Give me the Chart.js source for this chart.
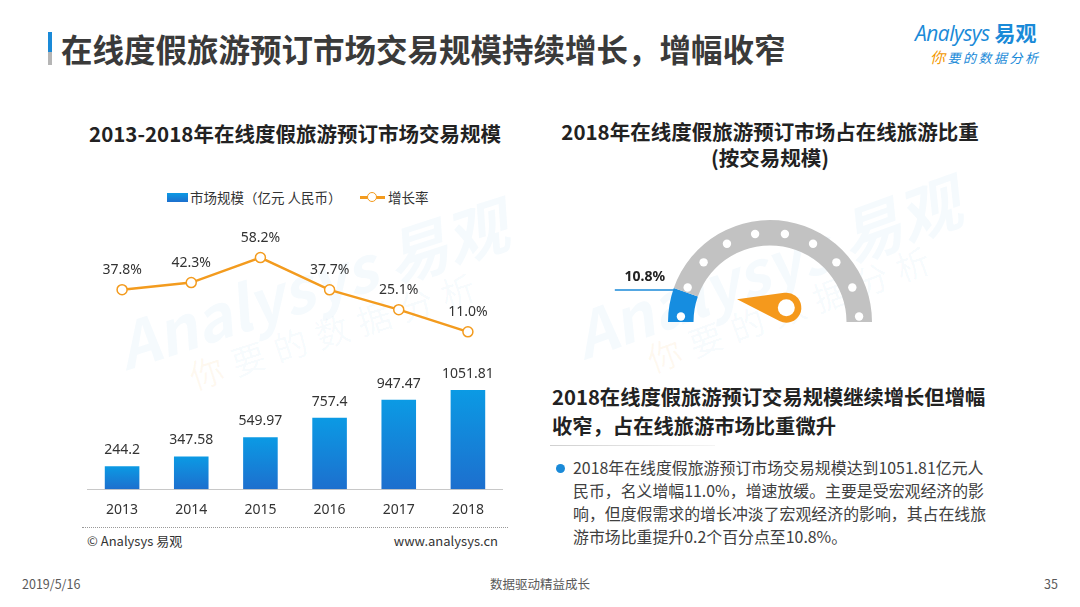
<!DOCTYPE html>
<html lang="zh-CN">
<head>
<meta charset="utf-8">
<title>在线度假旅游预订市场交易规模</title>
<script src="https://cdn.jsdelivr.net/npm/chart.js@4.4.1/dist/chart.umd.min.js"></script>
<style>
  * { margin: 0; padding: 0; box-sizing: border-box; }
  body { width: 1080px; height: 607px; background: #fff; position: relative; overflow: hidden;
         font-family: "Noto Sans CJK SC", "Noto Sans", sans-serif; color: #333; }
  .abs { position: absolute; white-space: nowrap; }
  .wm { position: absolute; white-space: nowrap; transform-origin: left center; pointer-events: none; z-index: 0; }
  canvas { position: absolute; z-index: 1; }
</style>
</head>
<body>

<script>
// ── Données ───────────────────────────────────────────────────────────
const years       = ['2013', '2014', '2015', '2016', '2017', '2018']
const marketSize  = [244.2, 347.58, 549.97, 757.4, 947.47, 1051.81]   // 亿元 人民币
const growthRate  = [37.8, 42.3, 58.2, 37.7, 25.1, 11.0]              // %
const shareLabels = ['在线度假旅游', '其他在线旅游']
const shareValues = [10.8, 89.2]                                      // %
</script>

<!-- ── En-tête ─────────────────────────────────────────────────────── -->
<div class="abs" style="left:48px;top:32px;width:4px;height:33px;background:linear-gradient(#1a8ad8 0 62%, #b5b5b5 62% 100%)"></div>
<div class="abs" style="left:61px;top:26px;font-size:31.5px;font-weight:700;line-height:44px;color:#3a3a3a">在线度假旅游预订市场交易规模持续增长，增幅收窄</div>

<div class="abs" style="left:915px;top:18px;font-size:21px;line-height:28px;color:#1a8ad8">
  <span style="font-family:'Open Sans',sans-serif;font-style:italic;letter-spacing:-0.5px">Analysys</span><span style="font-weight:700;margin-left:5px">易观</span>
</div>
<div class="abs" style="left:930px;top:48px;font-size:13px;line-height:18px;font-style:italic;letter-spacing:2.5px;color:#1a8ad8">
  <span style="color:#f39800;font-size:15px">你</span>要的数据分析
</div>

<!-- ── Filigrane ───────────────────────────────────────────────────── -->
<div class="wm" style="left:118px;top:300px;font-size:62px;font-style:italic;font-weight:700;color:rgba(26,138,216,0.045);transform:rotate(-18deg)">Analysys 易观</div>
<div class="wm" style="left:190px;top:352px;font-size:34px;letter-spacing:10px;color:rgba(26,138,216,0.045);transform:rotate(-18deg)"><span style="color:rgba(243,152,0,0.06)">你</span>要的数据分析</div>
<div class="wm" style="left:575px;top:290px;font-size:62px;font-style:italic;font-weight:700;color:rgba(26,138,216,0.045);transform:rotate(-20deg)">Analysys 易观</div>
<div class="wm" style="left:648px;top:335px;font-size:34px;letter-spacing:10px;color:rgba(26,138,216,0.045);transform:rotate(-20deg)"><span style="color:rgba(243,152,0,0.06)">你</span>要的数据分析</div>

<!-- ── Graphique gauche ────────────────────────────────────────────── -->
<div class="abs" style="left:80px;width:430px;top:118px;text-align:center;font-size:20.5px;font-weight:700;line-height:30px;color:#222">2013-2018年在线度假旅游预订市场交易规模</div>

<div class="abs" style="left:167px;top:193px;width:21px;height:9px;background:linear-gradient(#0b9ae4,#1d6fce)"></div>
<div class="abs" style="left:190px;top:187px;font-size:13.5px;line-height:20px;color:#333">市场规模（亿元 人民币）</div>
<div class="abs" style="left:360px;top:196px;width:25px;height:2.5px;background:#f39b1e"></div>
<div class="abs" style="left:367px;top:192px;width:10px;height:10px;border-radius:50%;border:1.5px solid #f39b1e;background:#fff"></div>
<div class="abs" style="left:388px;top:187px;font-size:13.5px;line-height:20px;color:#333">增长率</div>

<canvas id="chart-market" width="428" height="324" style="left:81px;top:211px;width:428px;height:324px"></canvas>

<div class="abs" style="left:82px;top:527px;width:426px;border-top:1px dotted #999"></div>
<div class="abs" style="left:87px;top:532px;font-size:13px;line-height:18px;color:#333">© Analysys 易观</div>
<div class="abs" style="left:300px;width:198px;top:532px;text-align:right;font-size:13px;line-height:18px;color:#333">www.analysys.cn</div>

<!-- ── Jauge droite ────────────────────────────────────────────────── -->
<div class="abs" style="left:555px;width:430px;top:118px;text-align:center;font-size:20.5px;font-weight:700;line-height:26px;color:#222">2018年在线度假旅游预订市场占在线旅游比重<br>(按交易规模)</div>

<canvas id="chart-share" width="300" height="120" style="left:600px;top:212px;width:300px;height:120px"></canvas>

<div class="abs" style="left:552px;top:382px;font-size:20.3px;font-weight:700;line-height:29px;color:#222">2018在线度假旅游预订交易规模继续增长但增幅<br>收窄，占在线旅游市场比重微升</div>
<div class="abs" style="left:550px;top:445px;width:165px;height:1px;background:linear-gradient(90deg,#d0d0d0,#f4f4f4)"></div>
<div class="abs" style="left:556px;top:464px;width:9px;height:9px;border-radius:50%;background:#1a8ad8"></div>
<div class="abs" style="left:573px;top:456px;font-size:15.9px;line-height:23px;color:#404040">2018年在线度假旅游预订市场交易规模达到1051.81亿元人<br>民币，名义增幅11.0%，增速放缓。主要是受宏观经济的影<br>响，但度假需求的增长冲淡了宏观经济的影响，其占在线旅<br>游市场比重提升0.2个百分点至10.8%。</div>

<!-- ── Pied de page ────────────────────────────────────────────────── -->
<div class="abs" style="left:22px;top:575px;font-size:12.5px;line-height:17px;color:#595959">2019/5/16</div>
<div class="abs" style="left:440px;width:200px;top:575px;text-align:center;font-size:12.5px;line-height:17px;color:#595959">数据驱动精益成长</div>
<div class="abs" style="left:1000px;width:58px;top:575px;text-align:right;font-size:12.5px;line-height:17px;color:#595959">35</div>

<script>
const FONT = '"Noto Sans CJK SC", "Noto Sans", sans-serif'
const NUM_FONT = '"Noto Sans", "Noto Sans CJK SC", sans-serif'

// ── Étiquettes de valeurs (barres + courbe) ───────────────────────────
const valueLabels = {
    id: 'valueLabels',
    afterDatasetsDraw(chart) {
        const { ctx } = chart
        ctx.save()
        ctx.font = '14px ' + NUM_FONT
        ctx.fillStyle = '#333'
        ctx.textAlign = 'center'
        ctx.textBaseline = 'middle'
        chart.data.datasets.forEach((ds, i) => {
            chart.getDatasetMeta(i).data.forEach((el, j) => {
                const v = ds.data[j]
                if (ds.type === 'bar') ctx.fillText(String(v), el.x, el.y - 16)
                else ctx.fillText(v.toFixed(1) + '%', el.x, el.y - 20)
            })
        })
        ctx.restore()
    }
}

new Chart(document.getElementById('chart-market'), {
    data: {
        labels: years,
        datasets: [
            {
                type: 'line',
                label: '增长率',
                data: growthRate,
                yAxisID: 'y2',
                borderColor: '#f39b1e',
                borderWidth: 2.5,
                pointRadius: 5,
                pointBorderWidth: 1.5,
                pointBackgroundColor: '#fff',
                pointBorderColor: '#f39b1e',
                tension: 0,
                order: 0,
            },
            {
                type: 'bar',
                label: '市场规模（亿元 人民币）',
                data: marketSize,
                yAxisID: 'y',
                barPercentage: 0.5,
                categoryPercentage: 1,
                order: 1,
                backgroundColor: (c) => {
                    const { chart } = c
                    const y = chart.scales.y
                    if (!y || c.raw === undefined) return '#1a85dc'
                    const top = y.getPixelForValue(c.raw), base = y.getPixelForValue(0)
                    if (!Number.isFinite(top) || !Number.isFinite(base)) return '#1a85dc'
                    const g = chart.ctx.createLinearGradient(0, top, 0, base)
                    g.addColorStop(0, '#0b9ae4')
                    g.addColorStop(1, '#1d6fce')
                    return g
                },
            },
        ]
    },
    options: {
        responsive: false,
        animation: false,
        layout: { padding: { top: 28, bottom: 5, left: 0, right: 0 } },
        plugins: { legend: { display: false }, tooltip: { enabled: false } },
        scales: {
            x:  {
                grid: { display: false, drawTicks: false },
                border: { display: true, color: '#c8c8c8', width: 1 },
                ticks: { padding: 12, color: '#333', font: { size: 14, family: NUM_FONT } },
            },
            y:  { display: false, min: 0, max: 2650 },
            y2: { display: false, min: -89, max: 70 },
        }
    },
    plugins: [valueLabels]
})

// ── Jauge : points blancs, aiguille, repère ───────────────────────────
const gaugeDeco = {
    id: 'gaugeDeco',
    afterDatasetsDraw(chart) {
        const { ctx } = chart
        const arcs = chart.getDatasetMeta(0).data
        const a0 = arcs[0]
        const { x: cx, y: cy, outerRadius: R, innerRadius: r } = a0.getProps(['x', 'y', 'outerRadius', 'innerRadius'])
        ctx.save()

        // points blancs le long de l'anneau
        const mid = (R + r) / 2
        const n = 10, pad = 3.5 * Math.PI / 180
        const step = (Math.PI - 2 * pad) / (n - 1)
        ctx.fillStyle = '#fff'
        for (let i = 0; i < n; i++) {
            const a = Math.PI + pad + i * step
            ctx.beginPath()
            ctx.arc(cx + mid * Math.cos(a), cy + mid * Math.sin(a), 4.2, 0, Math.PI * 2)
            ctx.fill()
        }

        // aiguille orange
        const dir = (a0.startAngle + a0.endAngle) / 2
        const px = cx + 0.16 * R, py = cy - 0.14 * R
        const pr = 15, len = 0.49 * R
        const tx = px + len * Math.cos(dir), ty = py + len * Math.sin(dir)
        const t = Math.acos(pr / len)
        ctx.fillStyle = '#f5991c'
        ctx.beginPath()
        ctx.moveTo(tx, ty)
        ctx.lineTo(px + pr * Math.cos(dir + t), py + pr * Math.sin(dir + t))
        ctx.arc(px, py, pr, dir + t, dir - t + Math.PI * 2)
        ctx.closePath()
        ctx.fill()
        ctx.fillStyle = '#fff'
        ctx.beginPath()
        ctx.arc(px, py, 8.5, 0, Math.PI * 2)
        ctx.fill()

        // repère + étiquette de la part
        const ex = cx + R * Math.cos(a0.endAngle), ey = cy + R * Math.sin(a0.endAngle)
        ctx.strokeStyle = '#1a8ad8'
        ctx.lineWidth = 1.5
        ctx.beginPath()
        ctx.moveTo(ex + 1, ey + 2)
        ctx.lineTo(ex - 59, ey + 2)
        ctx.stroke()
        ctx.fillStyle = '#222'
        ctx.font = 'bold 14px ' + NUM_FONT
        ctx.textAlign = 'center'
        ctx.textBaseline = 'middle'
        ctx.fillText(shareValues[0].toFixed(1) + '%', ex - 29, ey - 11)
        ctx.restore()
    }
}

new Chart(document.getElementById('chart-share'), {
    type: 'doughnut',
    data: {
        labels: shareLabels,
        datasets: [{
            data: shareValues,
            backgroundColor: ['#168de0', '#c2c2c2'],
            borderWidth: 0,
            offset: 0,
            hoverOffset: 0,
            spacing: 0,
        }]
    },
    options: {
        responsive: false,
        animation: false,
        rotation: -90,
        circumference: 180,
        cutout: '75%',
        layout: { padding: { left: 68, right: 28, top: 8, bottom: 10 } },
        plugins: { legend: { display: false }, tooltip: { enabled: false } },
    },
    plugins: [gaugeDeco]
})
</script>
</body>
</html>
